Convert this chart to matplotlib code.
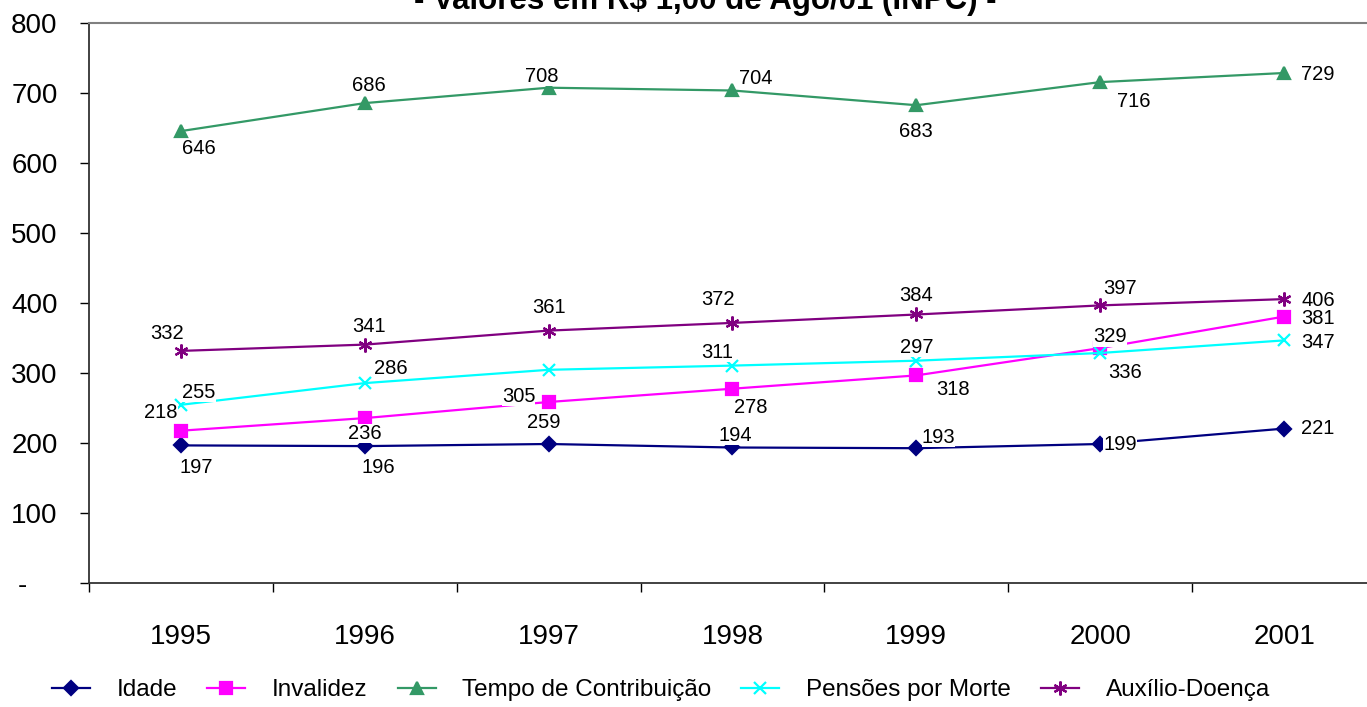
import matplotlib.pyplot as plt

plt.rcParams['font.family'] = ['Liberation Sans', 'DejaVu Sans']

anos = ['1995', '1996', '1997', '1998', '1999', '2000', '2001']
idade = [197, 196, 199, 194, 193, 199, 221]
invalidez = [218, 236, 259, 278, 297, 336, 381]
tempo = [646, 686, 708, 704, 683, 716, 729]
pensoes = [255, 286, 305, 311, 318, 329, 347]
auxilio = [332, 341, 361, 372, 384, 397, 406]
y_ticks = [0, 100, 200, 300, 400, 500, 600, 700, 800]

# label offsets in pixels (dx, dy down)
off_idade = [(15, 22), (14, 21), (-5, -21), (3, -12), (22, -11), (20, 1), (34, 0)]
off_inval = [(-20, -18), (0, 15), (-5, 21), (18, 19), (0, -28), (25, 24), (34, 2)]
off_tempo = [(18, 17), (4, -18), (-7, -11), (23, -12), (0, 26), (34, 19), (34, 2)]
off_pens = [(18, -12), (26, -15), (-30, 27), (-15, -13), (37, 29), (10, -16), (34, 2)]
off_aux = [(-14, -17), (4, -18), (0, -23), (-15, -23), (0, -19), (20, -17), (34, 1)]

fig = plt.figure(figsize=(13.67, 7.07), dpi=100)
ax = fig.add_axes([89 / 1367, 123.7 / 707, 1287 / 1367, 560 / 707])

x = range(len(anos))
series = [
    ('Idade', idade, '#000080', 'D', 7, off_idade),
    ('Invalidez', invalidez, '#FF00FF', 's', 8, off_inval),
    ('Tempo de Contribuição', tempo, '#339966', '^', 8, off_tempo),
    ('Pensões por Morte', pensoes, '#00FFFF', 'x', 9, off_pens),
    ('Auxílio-Doença', auxilio, '#800080', (6, 2, 0), 10, off_aux),
]

for nome, vals, cor, mk, ms, offs in series:
    ax.plot(x, vals, color=cor, marker=mk, markersize=ms, linewidth=1.6,
            markeredgewidth=1.6, label=nome, zorder=2, clip_on=False)

for nome, vals, cor, mk, ms, offs in series:
    for i, v in enumerate(vals):
        dx, dy = offs[i]
        # last column labels sit in empty space, no white box needed
        box = None if i == len(vals) - 1 else dict(fc='white', ec='none', pad=0.05)
        ax.annotate(str(v), (i, v), xytext=(dx, -dy), textcoords='offset pixels',
                    ha='center', va='center', fontsize=14.5, zorder=5, bbox=box)

ax.set_xlim(-0.5, len(anos) - 0.5)
ax.set_ylim(0, 800)
ax.set_yticks(y_ticks)
ax.set_yticklabels(['-    '] + [str(t) for t in y_ticks[1:]])
ax.set_xticks(list(x))
ax.set_xticklabels(anos)
ax.set_xticks([i - 0.5 for i in range(len(anos) + 1)], minor=True)
ax.tick_params(axis='x', which='major', length=0, pad=29, labelsize=20)
ax.tick_params(axis='x', which='minor', length=6.5, width=1, direction='out')
ax.tick_params(axis='y', length=6.5, width=1, direction='out', pad=16, labelsize=20)

ax.spines['right'].set_visible(False)
ax.spines['top'].set_color('#808080')
ax.spines['top'].set_linewidth(1.5)
ax.spines['left'].set_color('#333333')
ax.spines['bottom'].set_color('#333333')
ax.spines['left'].set_linewidth(1.3)
ax.spines['bottom'].set_linewidth(1.3)

fig.text(705 / 1367, 1 - 9 / 707, '- Valores em R$ 1,00 de Ago/01 (INPC) -',
         ha='center', va='baseline', fontsize=22.5, fontweight='bold')

fig.legend(loc='center', bbox_to_anchor=(661 / 1367, 1 - 690 / 707), ncol=5,
           frameon=False, fontsize=17.5, handlelength=1.56, handletextpad=1.1,
           columnspacing=1.23)

fig.savefig('out.png', dpi=100)
